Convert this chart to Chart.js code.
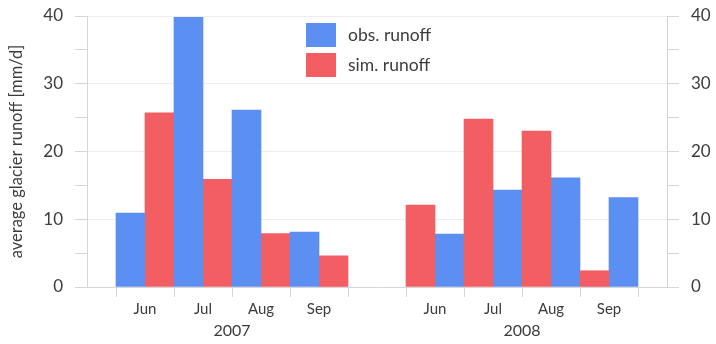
<!DOCTYPE html>
<html>
<head>
<meta charset="utf-8">
<script src="https://cdn.jsdelivr.net/npm/chart.js@4/dist/chart.umd.min.js"></script>
<style>
html,body{margin:0;padding:0;background:#fff;}
#wrap{width:716px;height:344px;}
</style>
</head>
<body>
<div id="wrap"><canvas id="c" width="716" height="344"></canvas></div>
<script>
// ---- data ----
const months = ['Jun', 'Jul', 'Aug', 'Sep'];
const years = ['2007', '2008'];
const obs2007 = [10.9, 39.8, 26.1, 8.1];
const sim2007 = [25.7, 15.9, 7.9, 4.6];
const obs2008 = [7.8, 14.3, 16.1, 13.2];
const sim2008 = [12.1, 24.8, 23.0, 2.4];
const seriesNames = ['obs. runoff', 'sim. runoff'];
const yTicks = [0, 10, 20, 30, 40];

const BLUE = '#5b8ff1';
const RED = '#f35e62';
const AXIS = '#d6d6d6';
const GRID = '#ededed';
const TXT = '#3c3c3c';
const FONT = 'Lato, "Open Sans", sans-serif';

// category layout: padding slot, 2007 months, gap slot, 2008 months, padding slot
const categories = [''].concat(months, [''], months, ['']);
// 2007: obs left, sim right; 2008: sim left, obs right
const leftSlot = [null].concat(obs2007, [null], sim2008, [null]);
const rightSlot = [null].concat(sim2007, [null], obs2008, [null]);
const leftColors = [null].concat(months.map(() => BLUE), [null], months.map(() => RED), [null]);
const rightColors = [null].concat(months.map(() => RED), [null], months.map(() => BLUE), [null]);

const legendPlugin = {
  id: 'boxLegend',
  afterDraw(chart) {
    const ctx = chart.ctx;
    const a = chart.chartArea;
    const x0 = a.left + 219;
    const items = [[seriesNames[0], BLUE], [seriesNames[1], RED]];
    ctx.save();
    ctx.font = '17.5px ' + FONT;
    ctx.textBaseline = 'middle';
    ctx.textAlign = 'left';
    items.forEach((it, i) => {
      const y = a.top + 7 + i * 30;
      ctx.fillStyle = it[1];
      ctx.fillRect(x0, y, 30, 24);
      ctx.fillStyle = TXT;
      ctx.fillText(it[0], x0 + 42, y + 12);
    });
    ctx.restore();
  }
};

function fixY(width) {
  return (s) => { s.width = width; s.paddingTop = 0; s.paddingBottom = 0; };
}

new Chart(document.getElementById('c'), {
  type: 'bar',
  data: {
    labels: categories,
    datasets: [
      { label: seriesNames[0], data: leftSlot, backgroundColor: leftColors, borderWidth: 0, xAxisID: 'x', yAxisID: 'y' },
      { label: seriesNames[1], data: rightSlot, backgroundColor: rightColors, borderWidth: 0, xAxisID: 'x', yAxisID: 'y' }
    ]
  },
  options: {
    responsive: false,
    animation: false,
    devicePixelRatio: 1,
    layout: { padding: { top: 16, left: 0, right: 0, bottom: 0 } },
    datasets: { bar: { barPercentage: 1, categoryPercentage: 1 } },
    plugins: { legend: { display: false }, tooltip: { enabled: false } },
    scales: {
      x: {
        type: 'category',
        position: 'bottom',
        offset: false,
        border: { color: AXIS },
        grid: {
          drawOnChartArea: false,
          tickLength: 10,
          tickColor: (c) => (c.index === 0 ? 'rgba(0,0,0,0)' : AXIS)
        },
        ticks: { color: TXT, font: { size: 15, family: FONT }, padding: 3, autoSkip: false, maxRotation: 0 },
        afterFit: (s) => { s.height = 34; }
      },
      year: {
        type: 'category',
        position: 'bottom',
        labels: years,
        offset: true,
        grid: { display: false, drawTicks: false },
        border: { display: false },
        ticks: { color: TXT, font: { size: 16, family: FONT }, padding: 0 },
        afterFit: (s) => { s.height = 23; }
      },
      y: {
        position: 'left',
        min: 0, max: 40,
        border: { color: AXIS },
        grid: {
          color: (c) => (c.tick && c.tick.value % 10 === 0 && c.tick.value !== 0 ? GRID : 'rgba(0,0,0,0)'),
          tickColor: AXIS,
          tickLength: 12
        },
        ticks: {
          stepSize: 5, color: TXT, font: { size: 17, family: FONT }, padding: 12,
          callback: (v) => (yTicks.includes(v) ? v : '')
        },
        title: { display: true, text: 'average glacier runoff [mm/d]', color: TXT, font: { size: 16.5, family: FONT }, padding: { top: 7, bottom: 0 } },
        afterFit: fixY(87)
      },
      y2: {
        position: 'right',
        min: 0, max: 40,
        border: { color: AXIS },
        grid: { drawOnChartArea: false, tickColor: AXIS, tickLength: 12 },
        ticks: {
          stepSize: 5, color: TXT, font: { size: 17, family: FONT }, padding: 12,
          callback: (v) => (yTicks.includes(v) ? v : '')
        },
        afterFit: fixY(49)
      }
    }
  },
  plugins: [legendPlugin]
});
</script>
</body>
</html>
